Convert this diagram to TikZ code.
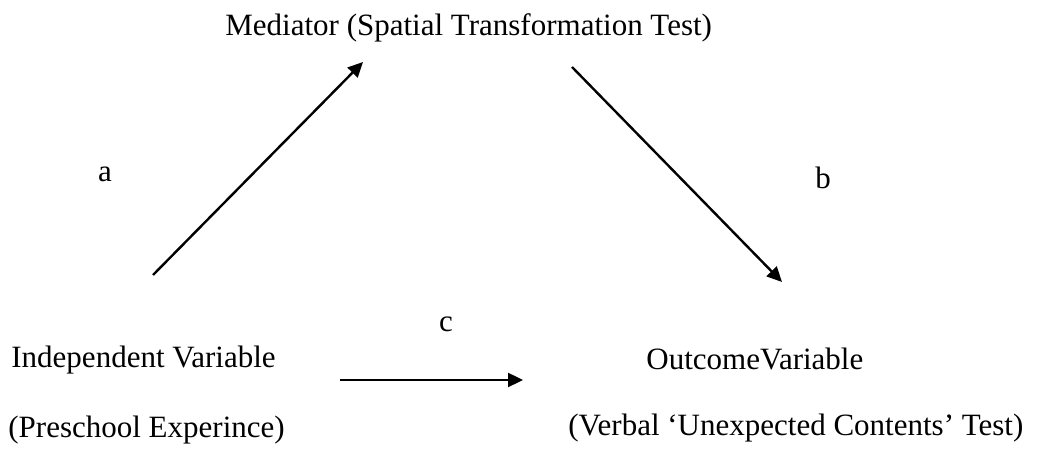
\documentclass[tikz,border=0pt]{standalone}
\usepackage{fontspec}
\setmainfont{Liberation Serif}
\usetikzlibrary{arrows.meta}
\begin{document}
\begin{tikzpicture}[x=0.5pt,y=-0.5pt,
  lbl/.style={inner sep=0pt,font=\fontsize{15.5}{18}\selectfont},
  conn/.style={line width=1.2pt,-{Triangle[length=7.5pt,width=7pt]}}]
\useasboundingbox (0,0) rectangle (1056,453);
\node[lbl,anchor=base west] (med) at (225,36) {Mediator (Spatial Transformation Test)};
\node[lbl,anchor=base] (la) at (105,182) {a};
\node[lbl,anchor=base] (lb) at (823,189) {b};
\node[lbl,anchor=base] (lc) at (446,332) {c};
\node[lbl,anchor=base west] (iv) at (11,368) {Independent Variable};
\node[lbl,anchor=base west] (ivs) at (8,438) {(Preschool Experince)};
\node[lbl,anchor=base west] (ov) at (646,370) {OutcomeVariable};
\node[lbl,anchor=base west] (ovs) at (568,436) {(Verbal ‘Unexpected Contents’ Test)};
\coordinate (a0) at (153,275);
\coordinate (a1) at (363,62);
\coordinate (b0) at (572,67);
\coordinate (b1) at (782,282);
\coordinate (c0) at (340,380);
\coordinate (c1) at (523,380);
\draw[conn] (a0) -- (a1);
\draw[conn] (b0) -- (b1);
\draw[conn] (c0) -- (c1);
\end{tikzpicture}
\end{document}
